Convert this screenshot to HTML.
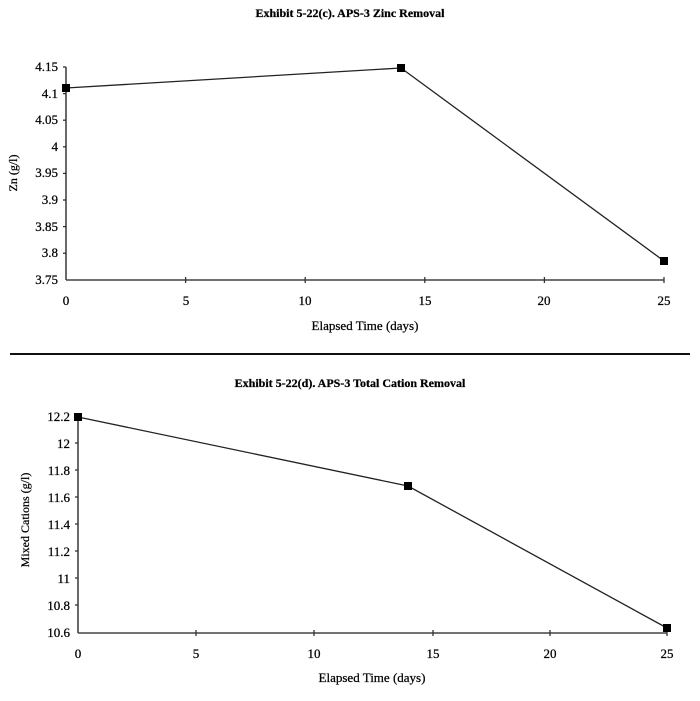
<!DOCTYPE html><html><head><style>body{margin:0;background:#fff}svg text{font-family:"Liberation Serif",serif;fill:#000;stroke:#000;stroke-width:0.25}</style></head><body>
<svg width="700" height="696" viewBox="0 0 700 696">
<g font-size="13">
<text x="350" y="17" text-anchor="middle" font-weight="bold" font-size="12">Exhibit 5-22(c). APS-3 Zinc Removal</text>
<line x1="66" y1="67" x2="66" y2="280" stroke="#444" stroke-width="1.6"/>
<line x1="66" y1="280" x2="664" y2="280" stroke="#444" stroke-width="1.6"/>
<g stroke="#333" stroke-width="1.3">
<line x1="63" y1="67" x2="66" y2="67"/><line x1="63" y1="93.6" x2="66" y2="93.6"/><line x1="63" y1="120.2" x2="66" y2="120.2"/><line x1="63" y1="146.8" x2="66" y2="146.8"/><line x1="63" y1="173.4" x2="66" y2="173.4"/><line x1="63" y1="200" x2="66" y2="200"/><line x1="63" y1="226.6" x2="66" y2="226.6"/><line x1="63" y1="253.2" x2="66" y2="253.2"/>
<line x1="185.6" y1="277" x2="185.6" y2="283"/><line x1="305.2" y1="277" x2="305.2" y2="283"/><line x1="424.8" y1="277" x2="424.8" y2="283"/><line x1="544.4" y1="277" x2="544.4" y2="283"/><line x1="664" y1="277" x2="664" y2="283"/>
</g>
<g text-anchor="end">
<text x="58" y="71">4.15</text><text x="58" y="98">4.1</text><text x="58" y="124">4.05</text><text x="58" y="151">4</text><text x="58" y="177">3.95</text><text x="58" y="204">3.9</text><text x="58" y="231">3.85</text><text x="58" y="257">3.8</text><text x="58" y="284">3.75</text>
</g>
<g text-anchor="middle">
<text x="66" y="305">0</text><text x="186" y="305">5</text><text x="305" y="305">10</text><text x="425" y="305">15</text><text x="544" y="305">20</text><text x="664" y="305">25</text>
<text x="365" y="330">Elapsed Time (days)</text>
</g>
<text transform="translate(17,173) rotate(-90)" text-anchor="middle" font-size="12">Zn (g/l)</text>
<polyline points="66,88 401,68 664,261" fill="none" stroke="#222" stroke-width="1.3"/>
<rect x="62" y="84" width="8" height="8"/><rect x="397" y="64" width="8" height="8"/><rect x="660" y="257" width="8" height="8"/>

<line x1="10" y1="354" x2="690" y2="354" stroke="#111" stroke-width="2"/>

<text x="350" y="387" text-anchor="middle" font-weight="bold" font-size="12">Exhibit 5-22(d). APS-3 Total Cation Removal</text>
<line x1="78" y1="416" x2="78" y2="633" stroke="#444" stroke-width="1.6"/>
<line x1="78" y1="633" x2="667" y2="633" stroke="#444" stroke-width="1.6"/>
<g stroke="#333" stroke-width="1.3">
<line x1="75" y1="443" x2="78" y2="443"/><line x1="75" y1="470" x2="78" y2="470"/><line x1="75" y1="497" x2="78" y2="497"/><line x1="75" y1="524" x2="78" y2="524"/><line x1="75" y1="551" x2="78" y2="551"/><line x1="75" y1="578" x2="78" y2="578"/><line x1="75" y1="605" x2="78" y2="605"/>
<line x1="196" y1="630" x2="196" y2="636"/><line x1="314" y1="630" x2="314" y2="636"/><line x1="433" y1="630" x2="433" y2="636"/><line x1="550" y1="630" x2="550" y2="636"/><line x1="667" y1="630" x2="667" y2="636"/>
</g>
<g text-anchor="end">
<text x="70" y="421">12.2</text><text x="70" y="448">12</text><text x="70" y="475">11.8</text><text x="70" y="502">11.6</text><text x="70" y="529">11.4</text><text x="70" y="556">11.2</text><text x="70" y="583">11</text><text x="70" y="610">10.8</text><text x="70" y="637">10.6</text>
</g>
<g text-anchor="middle">
<text x="78" y="658">0</text><text x="196" y="658">5</text><text x="314" y="658">10</text><text x="433" y="658">15</text><text x="550" y="658">20</text><text x="667" y="658">25</text>
<text x="372" y="682">Elapsed Time (days)</text>
</g>
<text transform="translate(29,520) rotate(-90)" text-anchor="middle" font-size="12">Mixed Cations (g/l)</text>
<polyline points="78,417 408,486 667,628" fill="none" stroke="#222" stroke-width="1.3"/>
<rect x="74" y="413" width="8" height="8"/><rect x="404" y="482" width="8" height="8"/><rect x="663" y="624" width="8" height="8"/>
</g>
</svg></body></html>
